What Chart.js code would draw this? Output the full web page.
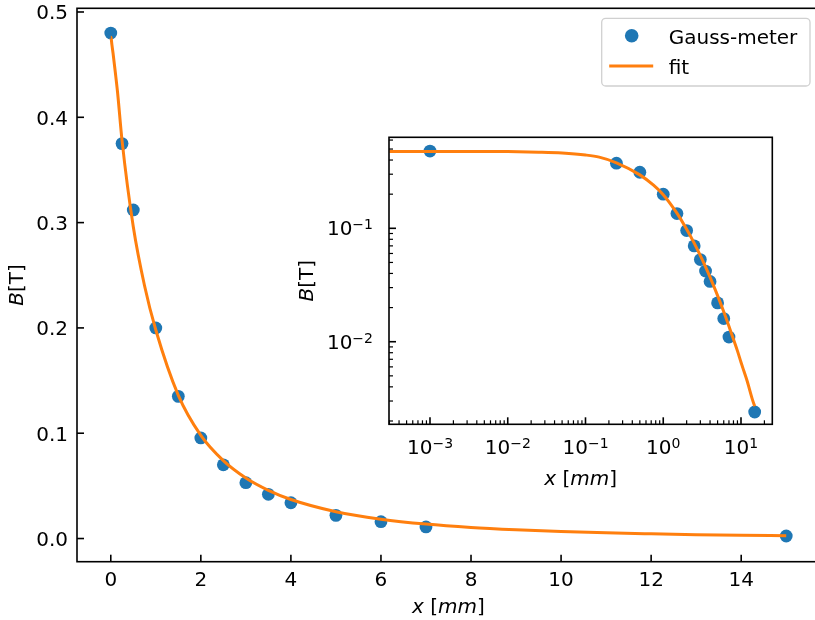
<!DOCTYPE html>
<html>
<head>
<meta charset="utf-8">
<title>Gauss-meter</title>
<script src="https://cdn.jsdelivr.net/npm/chart.js@4.4.1/dist/chart.umd.min.js"></script>
<style>
  html, body { margin: 0; padding: 0; background: #fff; overflow: hidden; width: 815px; height: 620px; }
  canvas { position: absolute; }
  #main { left: 0; top: 0; }
  #inset { left: 290px; top: 110px; }
</style>
</head>
<body>
<canvas id="main" width="830" height="620"></canvas>
<canvas id="inset" width="500" height="390"></canvas>
<script>
"use strict";

// measured field along the axis (x in mm, B in tesla)
const gaussX = [0, 0.25, 0.5, 1, 1.5, 2, 2.5, 3, 3.5, 4, 5, 6, 7, 15];
const gaussB = [0.480, 0.375, 0.312, 0.200, 0.135, 0.0955, 0.070, 0.053, 0.042, 0.034, 0.022, 0.016, 0.011, 0.0024];

// fitted curve
const fitX = [0.0003, 0.001, 0.003, 0.01, 0.025, 0.05, 0.1, 0.15, 0.25, 0.5, 0.75, 1, 1.5, 2, 2.5, 3, 3.5, 4, 5, 6, 7, 8, 9, 10, 11, 12, 13, 14, 15];
const fitB = [0.476, 0.476, 0.4758, 0.4745, 0.469, 0.461, 0.443, 0.424, 0.378, 0.296, 0.240, 0.198, 0.136, 0.098, 0.074, 0.0575, 0.0458, 0.0371, 0.0255, 0.0184, 0.0137, 0.0105, 0.0083, 0.0066, 0.0054, 0.0045, 0.0037, 0.0031, 0.0027];

// the log plot can't show x = 0, so that reading sits at 1e-3
const insetX = gaussX.map(x => x || 1e-3);

const mainXTicks = [0, 2, 4, 6, 8, 10, 12, 14];
const mainXTickLabels = ["0", "2", "4", "6", "8", "10", "12", "14"];
const mainYTicks = [0, 0.1, 0.2, 0.3, 0.4, 0.5];
const mainYTickLabels = ["0.0", "0.1", "0.2", "0.3", "0.4", "0.5"];
const insetXExps = [-3, -2, -1, 0, 1];
const insetYExps = [-2, -1];

const BLUE = "#1f77b4";
const ORANGE = "#ff7f0e";
const FAMILY = '"DejaVu Sans", sans-serif';

function font(size, italic) {
  return (italic ? "italic " : "") + size + "px " + FAMILY;
}

function pts(xs, ys) {
  return xs.map((x, i) => ({ x: x, y: ys[i] }));
}

function datasets(xs) {
  return [
    {
      label: "fit",
      data: pts(fitX, fitB),
      borderColor: ORANGE,
      borderWidth: 3,
      pointRadius: 0,
      cubicInterpolationMode: "monotone",
      fill: false,
      order: 1
    },
    {
      label: "Gauss-meter",
      data: pts(xs, gaussB),
      showLine: false,
      pointRadius: 6.4,
      pointBackgroundColor: BLUE,
      pointBorderWidth: 0,
      order: 2
    }
  ];
}

// text made of regular and italic runs, centred on (0, 0)
function drawPieces(ctx, pieces, size) {
  let total = 0;
  const widths = pieces.map(p => {
    ctx.font = font(size, p[1]);
    const w = ctx.measureText(p[0]).width;
    total += w;
    return w;
  });
  let x = -total / 2;
  ctx.textAlign = "left";
  pieces.forEach((p, i) => {
    ctx.font = font(size, p[1]);
    ctx.fillText(p[0], x, 0);
    x += widths[i];
  });
}

const xTitle = [["x", true], [" [", false], ["mm", true], ["]", false]];
const yTitle = [["B", true], ["[T]", false]];

function line(ctx, x1, y1, x2, y2, w) {
  ctx.lineWidth = w;
  ctx.beginPath();
  ctx.moveTo(x1, y1);
  ctx.lineTo(x2, y2);
  ctx.stroke();
}

function drawPower(ctx, exp, x, y, align) {
  const sup = exp < 0 ? "\u2212" + (-exp) : String(exp);
  ctx.font = font(20);
  const wb = ctx.measureText("10").width;
  ctx.font = font(14);
  const ws = ctx.measureText(sup).width;
  const left = align === "center" ? x - (wb + ws) / 2 : x - (wb + ws);
  ctx.textAlign = "left";
  ctx.font = font(20);
  ctx.fillText("10", left, y);
  ctx.font = font(14);
  ctx.fillText(sup, left + wb, y - 6);
}

const whiteArea = {
  id: "whiteArea",
  beforeDraw(chart) {
    const a = chart.chartArea;
    const ctx = chart.ctx;
    ctx.save();
    ctx.fillStyle = "#fff";
    ctx.fillRect(a.left, a.top, a.right - a.left, a.bottom - a.top);
    ctx.restore();
  }
};

const mainFrame = {
  id: "mainFrame",
  afterDraw(chart) {
    const { ctx, chartArea: a } = chart;
    const xs = chart.scales.x;
    const ys = chart.scales.y;
    ctx.save();
    ctx.strokeStyle = "#000";
    ctx.fillStyle = "#000";
    ctx.lineWidth = 1.6;
    ctx.strokeRect(a.left, a.top, a.right - a.left, a.bottom - a.top);

    ctx.font = font(20);
    ctx.textAlign = "center";
    mainXTicks.forEach((v, i) => {
      const px = xs.getPixelForValue(v);
      line(ctx, px, a.bottom, px, a.bottom - 7, 1.6);
      ctx.fillText(mainXTickLabels[i], px, a.bottom + 24.3);
    });
    ctx.textAlign = "right";
    mainYTicks.forEach((v, i) => {
      const py = ys.getPixelForValue(v);
      line(ctx, a.left, py, a.left + 7, py, 1.6);
      ctx.fillText(mainYTickLabels[i], a.left - 9, py + 7.5);
    });

    ctx.save();
    ctx.translate((a.left + a.right) / 2, 613);
    drawPieces(ctx, xTitle, 20);
    ctx.restore();
    ctx.save();
    ctx.translate(23.4, (a.top + a.bottom) / 2);
    ctx.rotate(-Math.PI / 2);
    drawPieces(ctx, yTitle, 20);
    ctx.restore();

    // legend, upper right
    const lx = a.right - 10 - 208.3;
    const ly = a.top + 10;
    ctx.beginPath();
    ctx.roundRect(lx, ly, 208.3, 67.7, 4);
    ctx.fillStyle = "rgba(255,255,255,0.8)";
    ctx.fill();
    ctx.strokeStyle = "#d0d0d0";
    ctx.lineWidth = 1.3;
    ctx.stroke();
    ctx.fillStyle = BLUE;
    ctx.beginPath();
    ctx.arc(lx + 30, ly + 17.4, 6.8, 0, Math.PI * 2);
    ctx.fill();
    ctx.strokeStyle = ORANGE;
    ctx.lineCap = "square";
    line(ctx, lx + 9, ly + 47.7, lx + 50, ly + 47.7, 3);
    ctx.fillStyle = "#000";
    ctx.font = font(20);
    ctx.textAlign = "left";
    ctx.fillText("Gauss-meter", lx + 67, ly + 25.8);
    ctx.fillText("fit", lx + 67, ly + 55.2);
    ctx.restore();
  }
};

function logTicks(lo, hi) {
  const out = [];
  for (let e = Math.floor(Math.log10(lo)); e <= Math.ceil(Math.log10(hi)); e++) {
    for (let m = 2; m <= 9; m++) {
      const v = m * Math.pow(10, e);
      if (v > lo && v < hi) out.push(v);
    }
  }
  return out;
}

const insetFrame = {
  id: "insetFrame",
  afterDraw(chart) {
    const { ctx, chartArea: a } = chart;
    const xs = chart.scales.x;
    const ys = chart.scales.y;
    ctx.save();
    ctx.strokeStyle = "#000";
    ctx.fillStyle = "#000";
    ctx.lineWidth = 1.6;
    ctx.strokeRect(a.left, a.top, a.right - a.left, a.bottom - a.top);

    logTicks(xs.min, xs.max).forEach(v => {
      const px = xs.getPixelForValue(v);
      line(ctx, px, a.bottom, px, a.bottom - 4, 1.2);
    });
    logTicks(ys.min, ys.max).forEach(v => {
      const py = ys.getPixelForValue(v);
      line(ctx, a.left, py, a.left + 4, py, 1.2);
    });
    insetXExps.forEach(e => {
      const px = xs.getPixelForValue(Math.pow(10, e));
      line(ctx, px, a.bottom, px, a.bottom - 7, 1.6);
      drawPower(ctx, e, px, a.bottom + 30, "center");
    });
    insetYExps.forEach(e => {
      const py = ys.getPixelForValue(Math.pow(10, e));
      line(ctx, a.left, py, a.left + 7, py, 1.6);
      drawPower(ctx, e, a.left - 16, py + 7, "right");
    });

    ctx.save();
    ctx.translate((a.left + a.right) / 2, a.bottom + 60.3);
    drawPieces(ctx, xTitle, 20);
    ctx.restore();
    ctx.save();
    ctx.translate(a.left - 76.4, (a.top + a.bottom) / 2);
    ctx.rotate(-Math.PI / 2);
    drawPieces(ctx, yTitle, 20);
    ctx.restore();
    ctx.restore();
  }
};

const common = {
  responsive: false,
  animation: false,
  devicePixelRatio: 1,
  events: [],
  plugins: { legend: { display: false }, tooltip: { enabled: false } }
};

new Chart(document.getElementById("main"), {
  type: "line",
  data: { datasets: datasets(gaussX) },
  options: Object.assign({}, common, {
    layout: { padding: { left: 77, right: 10, top: 8.3, bottom: 58.3 } },
    scales: {
      x: { type: "linear", min: -0.75, max: 15.75, display: false },
      y: { type: "linear", min: -0.022, max: 0.5035, display: false }
    }
  }),
  plugins: [mainFrame]
});

new Chart(document.getElementById("inset"), {
  type: "line",
  data: { datasets: datasets(insetX) },
  options: Object.assign({}, common, {
    layout: { padding: { left: 99, right: 17.7, top: 27.3, bottom: 75.7 } },
    scales: {
      x: { type: "logarithmic", min: 2.97e-4, max: 25.27, display: false },
      y: { type: "logarithmic", min: 0.00187, max: 0.6346, display: false }
    }
  }),
  plugins: [whiteArea, insetFrame]
});
</script>
</body>
</html>
